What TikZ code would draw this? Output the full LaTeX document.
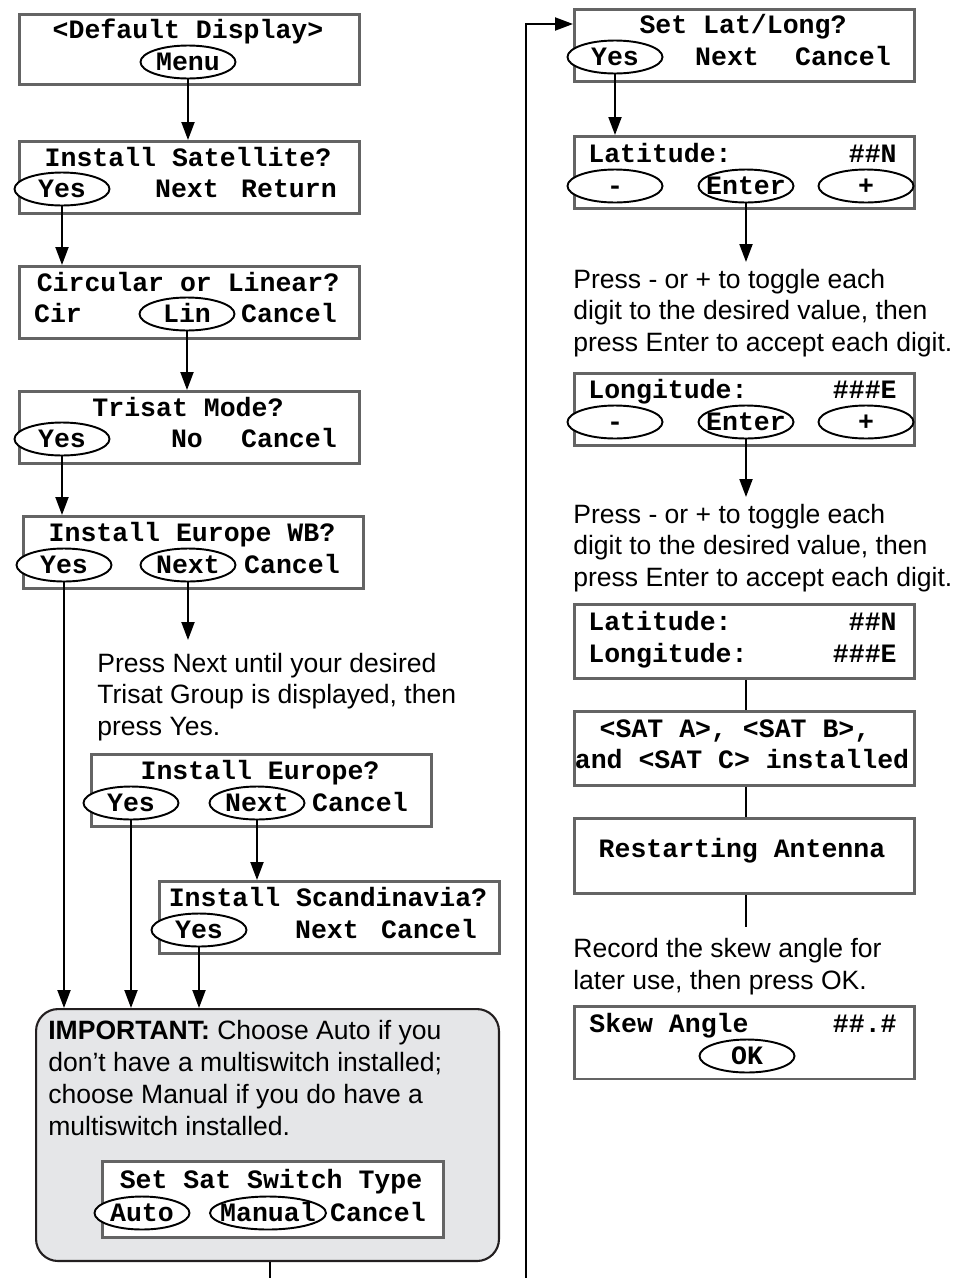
\documentclass[tikz,border=0pt]{standalone}
\usepackage{fontspec}
\setmainfont{Liberation Sans}
\newfontfamily\lcdfont{Liberation Mono}
\usetikzlibrary{arrows.meta,shapes.geometric}

\begin{document}
\begin{tikzpicture}[x=0.02cm, y=-0.02cm,
    lcd/.style={draw=lcdframe, line width=1.7pt, fill=white, minimum width=6.8cm,
        minimum height=1.45cm, inner sep=0pt, anchor=north west},
    txt/.style={font=\lcdfont\bfseries\fontsize{15.1}{18}\selectfont, inner sep=0pt, anchor=base},
    key/.style={txt, draw=black, line width=1.1pt, fill=white, ellipse, minimum width=1.9cm,
        minimum height=0.66cm, inner xsep=-0.8cm, inner ysep=0pt, text height=0.32cm, text depth=0pt},
    note/.style={font=\fontsize{15.1}{17.9}\selectfont, inner sep=0pt, anchor=base west, align=left},
    arr/.style={line width=1.15pt, -{Triangle[length=0.36cm, width=0.26cm]}},
    wire/.style={line width=1.15pt}]
    \definecolor{lcdframe}{RGB}{100,100,100}
    \definecolor{impfill}{RGB}{229,230,232}
    \definecolor{impframe}{RGB}{35,31,32}

    \useasboundingbox (0,0) rectangle (962,1278);

    % left column
    \node[lcd, minimum height=1.4cm] (default) at (18,13) {};
    \node[txt] (default-t) at (188,38) {<Default Display>};
    \node[key] (menu) at (188,70) {Menu};

    \node[lcd] (instsat) at (18,140) {};
    \node[txt] (instsat-t) at (188,166) {Install Satellite?};
    \node[key] (yes1) at (62,197) {Yes};
    \node[txt] (next1) at (187,197) {Next};
    \node[txt] (ret1) at (289,197) {Return};

    \node[lcd] (circlin) at (18,265) {};
    \node[txt] (circlin-t) at (188,291) {Circular or Linear?};
    \node[txt] (cir2) at (58,322) {Cir};
    \node[key] (lin2) at (187,322) {Lin};
    \node[txt] (cancel2) at (289,322) {Cancel};

    \node[lcd] (trisat) at (18,390) {};
    \node[txt] (trisat-t) at (188,416) {Trisat Mode?};
    \node[key] (yes3) at (62,447) {Yes};
    \node[txt] (no3) at (187,447) {No};
    \node[txt] (cancel3) at (289,447) {Cancel};

    \node[lcd] (eurowb) at (22,515) {};
    \node[txt] (eurowb-t) at (192,541) {Install Europe WB?};
    \node[key] (yes4) at (64,573) {Yes};
    \node[key] (next4) at (188,573) {Next};
    \node[txt] (cancel4) at (292,573) {Cancel};

    \node[note] (hint1) at (97,735) {Press Next until your desired\\Trisat Group is displayed, then\\press Yes.};
    \coordinate (hint1top) at (188,640);

    \node[lcd] (europe) at (90,753) {};
    \node[txt] (europe-t) at (260,779) {Install Europe?};
    \node[key] (yes5) at (131,811) {Yes};
    \node[key] (next5) at (257,811) {Next};
    \node[txt] (cancel5) at (360,811) {Cancel};

    \node[lcd] (scand) at (158,880) {};
    \node[txt] (scand-t) at (328,906) {Install Scandinavia?};
    \node[key] (yes6) at (199,938) {Yes};
    \node[txt] (next6) at (327,938) {Next};
    \node[txt] (cancel6) at (429,938) {Cancel};

    \node[draw=impframe, line width=1.2pt, fill=impfill, rounded corners=0.44cm, minimum width=9.26cm,
        minimum height=5.04cm, inner sep=0pt, anchor=north west] (important) at (35,1008) {};
    \node[note, font=\fontsize{15.1}{18.2}\selectfont] (imptext) at (48,1135)
        {\textbf{IMPORTANT:} Choose Auto if you\\don’t have a multiswitch installed;\\choose Manual if you do have a\\multiswitch installed.};
    \node[lcd, minimum width=6.82cm, minimum height=1.52cm] (switch) at (101,1160) {};
    \node[txt] (switch-t) at (271,1188) {Set Sat Switch Type};
    \node[key] (auto7) at (142,1221) {Auto};
    \node[key, minimum width=2.32cm] (manual7) at (268,1221) {Manual};
    \node[txt] (cancel7) at (378,1221) {Cancel};
    \coordinate (impfoot) at (270,1278);
    \coordinate (loopfoot) at (526,1278);

    % right column
    \node[lcd] (latlong) at (573,8) {};
    \node[txt] (latlong-t) at (743,33) {Set Lat/Long?};
    \node[key] (yes8) at (615,65) {Yes};
    \node[txt] (next8) at (727,65) {Next};
    \node[txt] (cancel8) at (843,65) {Cancel};

    \node[lcd] (lat) at (573,135) {};
    \node[txt, anchor=base west] (lat-t) at (588,162) {Latitude:};
    \node[txt, anchor=base east] (lat-v) at (897,162) {\#\#N};
    \node[key] (minus9) at (615,194) {-};
    \node[key] (enter9) at (746,194) {Enter};
    \node[key] (plus9) at (866,194) {+};

    \node[note] (hint2) at (573,351) {Press - or + to toggle each\\digit to the desired value, then\\press Enter to accept each digit.};
    \coordinate (hint2top) at (746,262);

    \node[lcd] (lon) at (573,372) {};
    \node[txt, anchor=base west] (lon-t) at (588,398) {Longitude:};
    \node[txt, anchor=base east] (lon-v) at (897,398) {\#\#\#E};
    \node[key] (minus10) at (615,430) {-};
    \node[key] (enter10) at (746,430) {Enter};
    \node[key] (plus10) at (866,430) {+};

    \node[note] (hint3) at (573,586) {Press - or + to toggle each\\digit to the desired value, then\\press Enter to accept each digit.};
    \coordinate (hint3top) at (746,497);

    \node[lcd, minimum height=1.48cm] (both) at (573,603) {};
    \node[txt, anchor=base west] (both-lat) at (588,630) {Latitude:};
    \node[txt, anchor=base east] (both-latv) at (897,630) {\#\#N};
    \node[txt, anchor=base west] (both-lon) at (588,662) {Longitude:};
    \node[txt, anchor=base east] (both-lonv) at (897,662) {\#\#\#E};

    \node[lcd, minimum height=1.48cm] (sats) at (573,710) {};
    \node[txt] (sats-a) at (735,737) {<SAT A>, <SAT B>,};
    \node[txt] (sats-b) at (742,768) {and <SAT C> installed};

    \node[lcd, minimum height=1.5cm] (restart) at (573,817) {};
    \node[txt] (restart-t) at (742,857) {Restarting Antenna};
    \coordinate (restartfoot) at (746,927);

    \node[note] (hint4) at (573,989) {Record the skew angle for\\later use, then press OK.};

    \node[lcd] (skew) at (573,1005) {};
    \node[txt, anchor=base west] (skew-t) at (589,1032) {Skew Angle};
    \node[txt, anchor=base east] (skew-v) at (897,1032) {\#\#.\#};
    \node[key] (ok11) at (747,1064) {OK};

    % connectors
    \draw[arr] (menu.south) -- (menu.south |- instsat.north);
    \draw[arr] (yes1.south) -- (yes1.south |- circlin.north);
    \draw[arr] (lin2.south) -- (lin2.south |- trisat.north);
    \draw[arr] (yes3.south) -- (yes3.south |- eurowb.north);
    \draw[arr] (next4.south) -- (hint1top);
    \draw[arr] (yes4.south) -- (yes4.south |- important.north);
    \draw[arr] (next5.south) -- (next5.south |- scand.north);
    \draw[arr] (yes5.south) -- (yes5.south |- important.north);
    \draw[arr] (yes6.south) -- (yes6.south |- important.north);
    \draw[wire] (impfoot |- important.south) -- (impfoot);
    \draw[arr] (loopfoot) |- ([yshift=-0.32cm]latlong.north west);
    \draw[arr] (yes8.south) -- (yes8.south |- lat.north);
    \draw[arr] (enter9.south) -- (hint2top);
    \draw[arr] (enter10.south) -- (hint3top);
    \draw[wire] (both.south -| enter10) -- (sats.north -| enter10);
    \draw[wire] (sats.south -| enter10) -- (restart.north -| enter10);
    \draw[wire] (restart.south -| enter10) -- (restartfoot);
\end{tikzpicture}
\end{document}
